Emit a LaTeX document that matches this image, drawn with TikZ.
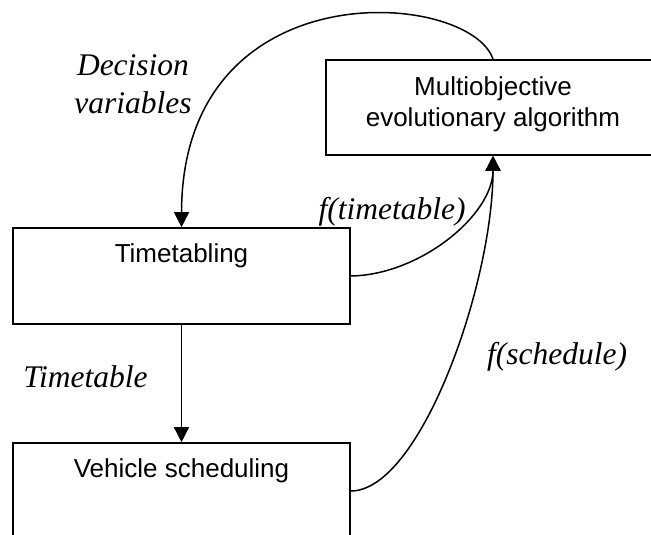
\documentclass[tikz,border=0pt]{standalone}
\usepackage{fontspec}
\setmainfont{Liberation Serif}
\newfontfamily\arialfont{Liberation Sans}
\usetikzlibrary{arrows.meta}
\newcommand\boxfont{\arialfont\fontsize{26}{31}\selectfont}
\newcommand\lblfont{\itshape\fontsize{31.5}{38}\selectfont}
\begin{document}
\begin{tikzpicture}[x=1pt,y=1pt,
        box/.style={draw,line width=1.6pt,inner sep=0pt,font=\boxfont,align=center},
        lbl/.style={font=\lblfont,align=center,inner sep=0pt},
        arr/.style={line width=1.5pt,-{Triangle[length=15pt,width=15pt]}}]
        \useasboundingbox (0,0) rectangle (651,535);
        \clip (0,0) rectangle (651,535);
        \foreach \x/\y/\w/\n/\l in {181.5/259/337/tt/Timetabling,181.5/44/337/vs/Vehicle scheduling}{
            \node[box,minimum width=\w,text height=35pt,text depth=61pt] (\n) at (\x,\y) {\l};
        }
        \node[box,minimum width=334,text height=67pt,text depth=28pt] (moea) at (493,427.5) {Multiobjective\\evolutionary algorithm};
        \foreach \x/\y/\n/\l in {133/451/dv/{Decision\\variables},392/323/ft/{f(timetable)},85.5/158/tl/Timetable,557/178/fs/{f(schedule)}}{
            \node[lbl] (\n) at (\x,\y) {\l};
        }
        \draw[arr] (moea.north) .. controls (470,545) and (182,568) .. (tt.north);
        \draw[arr] (tt.east) .. controls (420,260) and (493,320) .. (moea.south);
        \draw[arr] (vs.east) .. controls (420,44) and (493,250) .. (moea.south);
        \draw[arr] (tt) -- (vs);
    \end{tikzpicture}
\end{document}
